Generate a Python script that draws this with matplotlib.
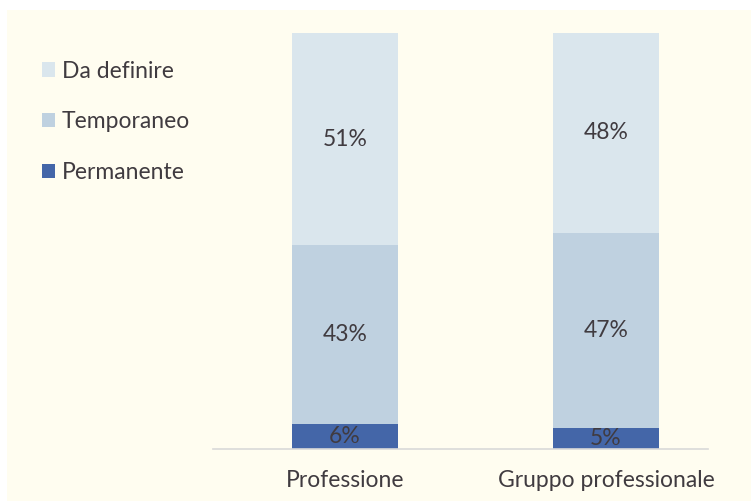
import matplotlib
matplotlib.use("Agg")
import matplotlib.pyplot as plt
from matplotlib.patches import Rectangle, Patch
import numpy as np

plt.rcParams['font.family'] = ['Lato', 'DejaVu Sans']

categorie = ['Professione', 'Gruppo professionale']
serie = ['Permanente', 'Temporaneo', 'Da definire']
permanente = [6, 5]
temporaneo = [43, 47]
da_definire = [51, 48]
colori = ['#4466A8', '#BFD1E0', '#DAE6ED']
testo = '#403B40'
fs = 16.5

fig = plt.figure(figsize=(7.51, 5.01), dpi=100)
fig.patch.set_facecolor('white')
# sfondo giallino
fig.patches.append(Rectangle((7 / 751, 0), 1, 1 - 10 / 501, transform=fig.transFigure,
                             facecolor='#FFFDF0', edgecolor='none', zorder=-10))

ax = fig.add_axes([213 / 751, 1 - 449 / 501, 495 / 751, 416 / 501])
ax.set_facecolor('none')

x = np.arange(len(categorie))
w = 0.406
valori = [permanente, temporaneo, da_definire]
base = np.zeros(len(categorie))
for nome, v, c in zip(serie, valori, colori):
    v = np.array(v, dtype=float)
    ax.bar(x, v, w, bottom=base, color=c, label=nome)
    for xi, b, vi in zip(x, base, v):
        ax.text(xi, b + vi / 2, f'{int(vi)}%', ha='center', va='center',
                fontsize=fs, color=testo)
    base += v

ax.set_xlim(-0.506, 1.391)
ax.set_ylim(0, 100)
ax.set_yticks([])
for s in ['top', 'right', 'left']:
    ax.spines[s].set_visible(False)
ax.spines['bottom'].set_color('#D9D9D9')
ax.spines['bottom'].set_linewidth(1.2)
ax.set_xticks(x)
ax.set_xticklabels(categorie, fontsize=fs, color=testo)
ax.tick_params(axis='x', length=0, pad=15)

handles = [Patch(facecolor=c, edgecolor='none', label=n)
           for n, c in zip(serie[::-1], colori[::-1])]
fig.legend(handles=handles, loc='upper left', bbox_to_anchor=(21 / 751, 1 - 40 / 501),
           frameon=False, fontsize=fs, labelspacing=1.3, handlelength=0.57,
           handleheight=0.57, handletextpad=0.3, labelcolor=testo)

fig.savefig('out.png', dpi=100)
